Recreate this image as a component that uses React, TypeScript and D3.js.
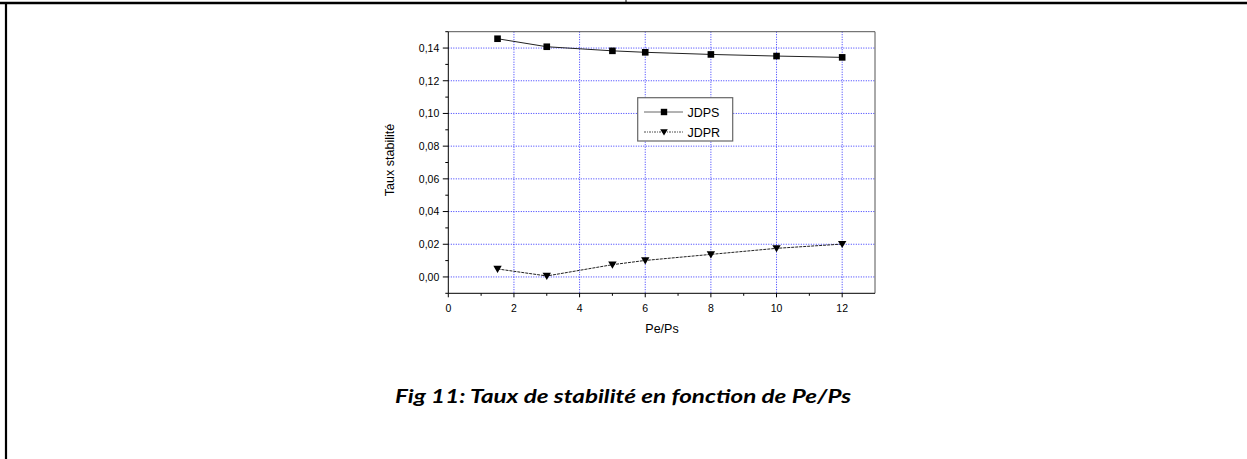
import React from "react";
import * as d3 from "d3";

const xValues = [1.5, 3, 5, 6, 8, 10, 12];
const jdps = [0.1457, 0.1408, 0.1383, 0.1374, 0.1361, 0.1351, 0.1343];
const jdpr = [0.0049, 0.0006, 0.0075, 0.0101, 0.0138, 0.0175, 0.0201];
const xTicks = [0, 2, 4, 6, 8, 10, 12];
const yTicks = [0, 0.02, 0.04, 0.06, 0.08, 0.1, 0.12, 0.14];
const seriesNames = ["JDPS", "JDPR"];
const caption = "Fig 11: Taux de stabilité en fonction de Pe/Ps";

const W = 1247;
const H = 459;
const left = 448.3, right = 875, top = 31.7, bottom = 293.3;
const FONT = "'Liberation Sans', Arial, sans-serif";

export default function App() {
  const x = d3.scaleLinear().domain([0, 13]).range([left, right]);
  const y = d3.scaleLinear().domain([-0.01, 0.15]).range([bottom, top]);
  const line = d3
    .line<[number, number]>()
    .x((d) => x(d[0]))
    .y((d) => y(d[1]));
  const ptsS: [number, number][] = xValues.map((v, i) => [v, jdps[i]]);
  const ptsR: [number, number][] = xValues.map((v, i) => [v, jdpr[i]]);
  const minorX = d3.range(1, 13, 2);
  const minorY = d3.range(-0.01, 0.151, 0.02);
  const fmt = (v: number) => v.toFixed(2).replace(".", ",");
  const tri = (cx: number, cy: number, s: number) =>
    `M${cx - s},${cy - s * 0.75}L${cx + s},${cy - s * 0.75}L${cx},${cy + s * 0.95}Z`;

  return (
    <svg
      width={W}
      height={H}
      style={{ position: "absolute", left: 0, top: 0, background: "#fff" }}
    >
      {/* page frame */}
      <line x1={0} x2={W} y1={3} y2={3} stroke="#000" strokeWidth={2.5} />
      <line x1={6} x2={6} y1={2} y2={H} stroke="#000" strokeWidth={2.2} />
      <line x1={626} x2={626} y1={0} y2={3} stroke="#000" strokeWidth={1} />

      {/* grid */}
      {xTicks.slice(1).map((t) => (
        <line
          key={"gx" + t}
          x1={x(t)}
          x2={x(t)}
          y1={top}
          y2={bottom}
          stroke="#0000ff"
          strokeWidth={0.8}
          strokeDasharray="1,1.5"
        />
      ))}
      {yTicks.map((t) => (
        <line
          key={"gy" + t}
          x1={left}
          x2={right}
          y1={y(t)}
          y2={y(t)}
          stroke="#0000ff"
          strokeWidth={0.8}
          strokeDasharray="1,1.5"
        />
      ))}

      {/* frame */}
      <line x1={left} x2={right} y1={top} y2={top} stroke="#555" strokeWidth={1} />
      <line x1={right} x2={right} y1={top} y2={bottom} stroke="#555" strokeWidth={1} />
      <line x1={left} x2={left} y1={top} y2={bottom} stroke="#000" strokeWidth={1} />
      <line x1={left} x2={right} y1={bottom} y2={bottom} stroke="#000" strokeWidth={1} />

      {/* y ticks */}
      {yTicks.map((t) => (
        <g key={"yt" + t}>
          <line x1={left - 5.5} x2={left} y1={y(t)} y2={y(t)} stroke="#000" />
          <text
            x={left - 9}
            y={y(t) + 3.8}
            textAnchor="end"
            fontFamily={FONT}
            fontSize={10.5}
            fill="#000"
          >
            {fmt(t)}
          </text>
        </g>
      ))}
      {minorY.map((t) => (
        <line key={"ym" + t} x1={left - 3} x2={left} y1={y(t)} y2={y(t)} stroke="#000" />
      ))}

      {/* x ticks */}
      {xTicks.map((t) => (
        <g key={"xt" + t}>
          <line x1={x(t)} x2={x(t)} y1={bottom} y2={bottom + 4} stroke="#000" />
          <text
            x={x(t)}
            y={bottom + 18.5}
            textAnchor="middle"
            fontFamily={FONT}
            fontSize={10.5}
            fill="#000"
          >
            {t}
          </text>
        </g>
      ))}
      {minorX.map((t) => (
        <line key={"xm" + t} x1={x(t)} x2={x(t)} y1={bottom} y2={bottom + 2.5} stroke="#000" />
      ))}

      {/* axis titles */}
      <text
        x={662}
        y={333}
        textAnchor="middle"
        fontFamily={FONT}
        fontSize={12.5}
        fill="#000"
      >
        Pe/Ps
      </text>
      <text
        transform={`translate(394,160) rotate(-90)`}
        textAnchor="middle"
        fontFamily={FONT}
        fontSize={12.5}
        fill="#000"
      >
        Taux stabilité
      </text>

      {/* series */}
      <path d={line(ptsS) || ""} fill="none" stroke="#222" strokeWidth={1} />
      <path
        d={line(ptsR) || ""}
        fill="none"
        stroke="#222"
        strokeWidth={1}
        strokeDasharray="3,1"
      />
      {ptsS.map((p, i) => (
        <rect
          key={"s" + i}
          x={x(p[0]) - 3.3}
          y={y(p[1]) - 3.3}
          width={6.6}
          height={6.6}
          fill="#000"
        />
      ))}
      {ptsR.map((p, i) => (
        <path key={"r" + i} d={tri(x(p[0]), y(p[1]), 4.2)} fill="#000" />
      ))}

      {/* legend */}
      <rect
        x={637.7}
        y={97.7}
        width={95}
        height={43.3}
        fill="#fff"
        stroke="#666"
        strokeWidth={1.2}
      />
      <line x1={644} x2={683} y1={112} y2={112} stroke="#666" strokeWidth={1} />
      <rect x={660.8} y={108.8} width={6.4} height={6.4} fill="#000" />
      <line
        x1={644}
        x2={683}
        y1={132}
        y2={132}
        stroke="#222"
        strokeWidth={0.8}
        strokeDasharray="2,1,1,1"
      />
      <path d={tri(664, 132, 3.8)} fill="#000" />
      <text x={687.5} y={116.5} fontFamily={FONT} fontSize={12.5} fill="#000">
        {seriesNames[0]}
      </text>
      <text x={687.5} y={136.5} fontFamily={FONT} fontSize={12.5} fill="#000">
        {seriesNames[1]}
      </text>

      {/* caption */}
      <text
        x={623}
        y={403}
        textAnchor="middle"
        fontFamily="Lato, 'Open Sans', sans-serif"
        fontWeight="bold"
        fontStyle="italic"
        fontSize={18}
        textLength={456}
        lengthAdjust="spacingAndGlyphs"
        fill="#000"
      >
        {caption}
      </text>
    </svg>
  );
}
